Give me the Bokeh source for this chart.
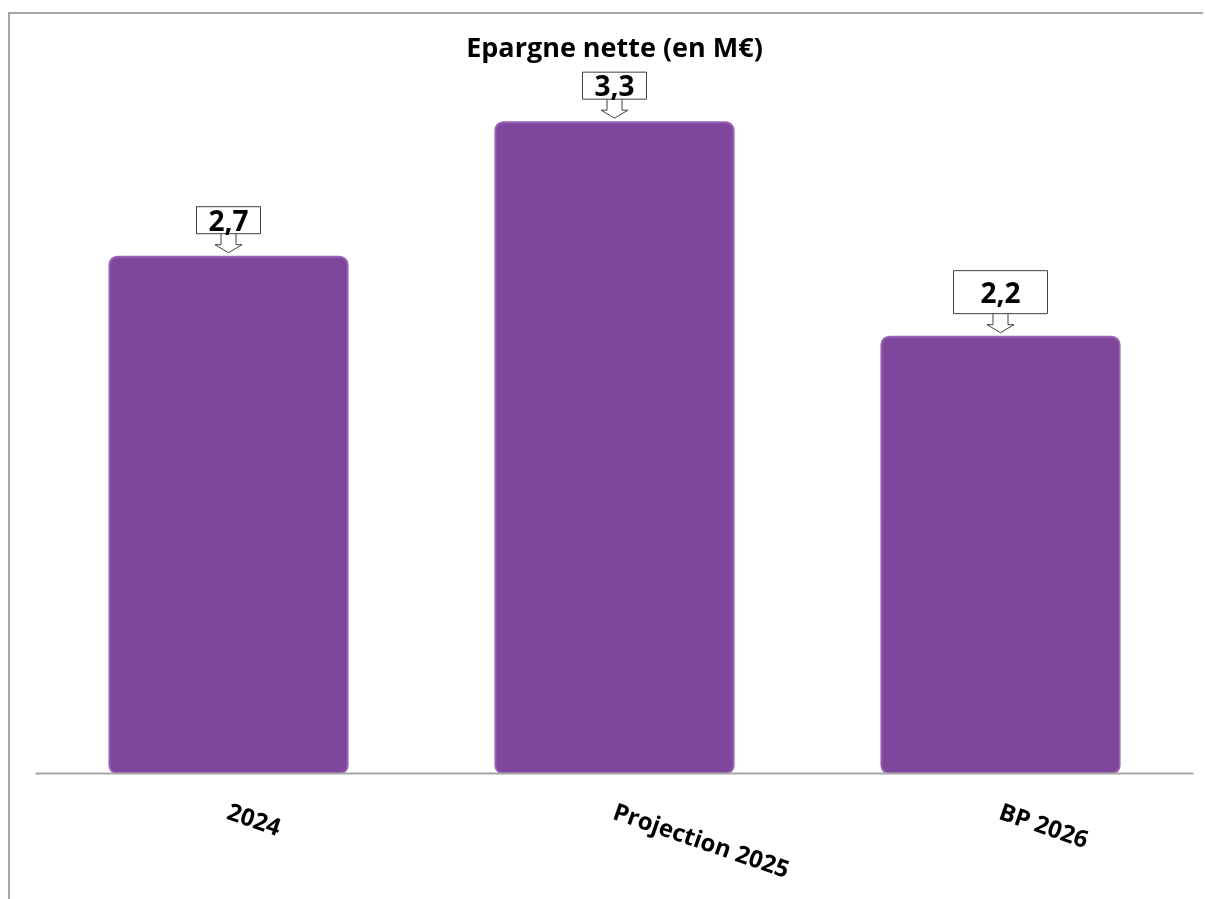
from bokeh.plotting import figure
from bokeh.models import FactorRange, Range1d, Label, ColumnDataSource
from bokeh.core.properties import value
from bokeh.embed import file_html
from bokeh.resources import INLINE

categories = ["2024", "Projection 2025", "BP 2026"]
values = [2.65, 3.34, 2.24]
value_labels = ["2,7", "3,3", "2,2"]
title_text = "Epargne nette (en M€)"

FONT = "Open Sans"
Y_END = 3.892
FRAME_H = 759
PX = Y_END / FRAME_H          # data units per pixel (vertical)
CX = 1.0 / 386                # category units per pixel (horizontal)

p = figure(
    width=1195, height=905,
    x_range=FactorRange(*categories),
    y_range=Range1d(0, Y_END),
    output_backend="svg", toolbar_location=None,
    min_border_left=25, min_border_right=12, min_border_top=0, min_border_bottom=146,
)
p.styles = {"position": "fixed", "top": "12px", "left": "8px",
            "border-top": "2px solid #a6a6a6", "border-left": "2px solid #a6a6a6"}
p.outline_line_color = None
p.background_fill_color = "white"
p.border_fill_color = "white"
p.xgrid.visible = False
p.ygrid.visible = False
p.yaxis.visible = False

src = ColumnDataSource(dict(cat=categories, val=values, lab=value_labels))

p.vbar(x="cat", top="val", bottom=0, width=0.617, source=src,
       fill_color="#7f479b", line_color="#9962b5", line_width=2, border_radius=8)

# callout arrows (block arrow pointing to bar top)
sw, hw = 7.5 * CX, 13.5 * CX
tip, hb, st = 4 * PX, 12 * PX, 26 * PX
axs, ays = [], []
for c, v in zip(categories, values):
    axs.append([[c, -sw], [c, sw], [c, sw], [c, hw], [c, 0], [c, -hw], [c, -sw]])
    ays.append([v + st, v + st, v + hb, v + hb, v + tip, v + hb, v + hb])
p.patches(xs=axs, ys=ays, fill_color="white", line_color="#404040", line_width=1)

for i in range(len(categories)):
    pad = (12, 3) if i < 2 else (27, 11)
    p.text(x=[categories[i]], y=[values[i]], text=[value_labels[i]],
           text_font=value(FONT), text_font_style="bold", text_font_size="28px",
           text_color="black", anchor="bottom_center", y_offset=-23,
           background_fill_color="white", border_line_color="#404040", border_line_width=1,
           padding=pad)

p.add_layout(Label(x=579, y=727, x_units="screen", y_units="screen", text=title_text,
                   text_font=FONT, text_font_style="bold", text_font_size="27px",
                   text_align="center", text_baseline="middle", text_color="black"))

ax = p.xaxis[0]
ax.axis_line_color = "#a6a6a6"
ax.axis_line_width = 2
ax.major_tick_line_color = None
ax.minor_tick_line_color = None
ax.major_label_orientation = -0.33
ax.major_label_text_font = FONT
ax.major_label_text_font_style = "bold"
ax.major_label_text_font_size = "24px"
ax.major_label_text_color = "black"
ax.major_label_standoff = 30

open("out.html", "w").write(file_html(p, INLINE))
